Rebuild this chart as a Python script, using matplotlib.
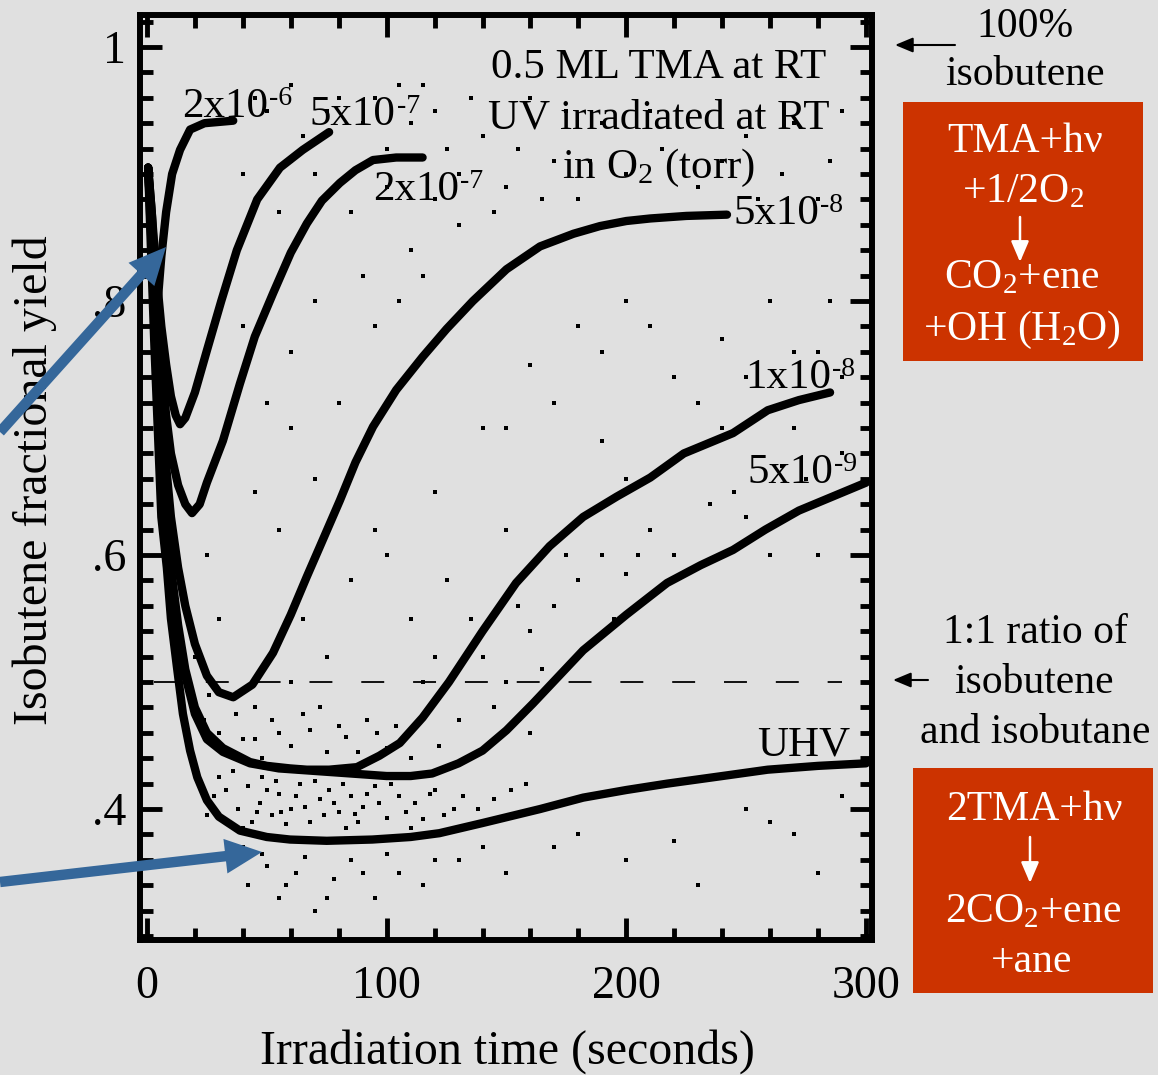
import matplotlib
matplotlib.use("Agg")
import matplotlib.pyplot as plt
from matplotlib.patches import Rectangle, FancyArrowPatch
from matplotlib.ticker import FixedLocator, MultipleLocator

plt.rcParams["font.family"] = ["Liberation Serif", "DejaVu Serif"]
plt.rcParams["mathtext.fontset"] = "custom"
plt.rcParams["mathtext.rm"] = "Liberation Serif"
plt.rcParams["mathtext.it"] = "Liberation Serif:italic"

# ---- data ------------------------------------------------------------------
t_2e6 = [0.5, 1.5, 3, 4.5, 6, 8, 10.5, 13.8, 18, 24, 30, 36]
y_2e6 = [0.905, 0.86, 0.81, 0.80, 0.835, 0.87, 0.90, 0.919, 0.935, 0.940, 0.941, 0.942]

t_5e7 = [0.5, 2, 4, 6, 8, 10, 12, 13.8, 16, 20, 25, 31, 37.5, 46, 55.5, 65, 76]
y_5e7 = [0.905, 0.87, 0.82, 0.78, 0.75, 0.725, 0.71, 0.703, 0.708, 0.728, 0.761,
         0.80, 0.84, 0.88, 0.905, 0.919, 0.933]

t_2e7 = [0.5, 2, 4, 6, 8, 10, 13, 16, 18.8, 22, 25, 31.7, 38.8, 45, 52.6, 60,
         66.7, 73, 80.5, 87, 94.3, 104, 115]
y_2e7 = [0.905, 0.87, 0.80, 0.75, 0.71, 0.68, 0.655, 0.64, 0.633, 0.64, 0.657,
         0.69, 0.735, 0.772, 0.806, 0.838, 0.861, 0.879, 0.893, 0.903, 0.911,
         0.913, 0.913]

t_5e8 = [0.5, 2, 4, 6, 8, 10, 13, 16, 20, 25, 30, 36, 44, 52.6, 60, 66.7, 72,
         80.5, 87, 94.3, 104, 115, 125, 136, 150, 164, 178, 189, 200, 210, 225, 242]
y_5e8 = [0.905, 0.86, 0.78, 0.72, 0.67, 0.63, 0.59, 0.56, 0.53, 0.505, 0.492,
         0.488, 0.498, 0.523, 0.553, 0.583, 0.606, 0.643, 0.673, 0.701, 0.73,
         0.756, 0.778, 0.80, 0.825, 0.843, 0.853, 0.859, 0.863, 0.865, 0.867, 0.868]

t_1e8 = [0.5, 2, 4, 6, 8, 10, 13, 16, 20, 25, 31.7, 43, 50, 59.7, 66.7, 76, 87.6,
         97, 105.5, 115, 126, 140, 154, 168, 182, 196, 210, 224, 244.5, 259, 272, 285]
y_1e8 = [0.905, 0.85, 0.76, 0.69, 0.63, 0.59, 0.545, 0.51, 0.48, 0.46, 0.448,
         0.437, 0.434, 0.432, 0.431, 0.431, 0.433, 0.442, 0.452, 0.472, 0.50,
         0.54, 0.578, 0.607, 0.63, 0.646, 0.661, 0.68, 0.696, 0.714, 0.722, 0.728]

t_5e9 = [0.5, 2, 4, 6, 8, 10, 13, 16, 20, 25, 31.7, 43, 55, 70, 85, 100, 110,
         119, 130, 140, 150, 161, 172, 182, 200, 217, 231, 244.5, 258, 272, 286, 300]
y_5e9 = [0.905, 0.85, 0.75, 0.68, 0.62, 0.58, 0.54, 0.505, 0.475, 0.455, 0.445,
         0.436, 0.432, 0.430, 0.428, 0.426, 0.426, 0.428, 0.436, 0.446, 0.462,
         0.483, 0.505, 0.525, 0.553, 0.578, 0.592, 0.604, 0.62, 0.635, 0.646, 0.657]

t_uhv = [0.5, 1.5, 3, 4.5, 6, 8.3, 10, 12.5, 15, 18, 21, 25, 30, 38.8, 50, 59.7,
         75, 94, 110, 122, 140, 164, 182, 200, 217, 240, 259, 280, 300]
y_uhv = [0.905, 0.85, 0.77, 0.70, 0.63, 0.59, 0.55, 0.512, 0.475, 0.446, 0.425,
         0.407, 0.394, 0.383, 0.378, 0.376, 0.375, 0.376, 0.378, 0.381, 0.389,
         0.40, 0.409, 0.415, 0.42, 0.426, 0.431, 0.434, 0.436]

curves = [(t_2e6, y_2e6), (t_5e7, y_5e7), (t_2e7, y_2e7), (t_5e8, y_5e8),
          (t_1e8, y_1e8), (t_5e9, y_5e9), (t_uhv, y_uhv)]
label_base = ["2x10", "5x10", "2x10", "5x10", "1x10", "5x10", "UHV"]
label_exp = ["-6", "-7", "-7", "-8", "-8", "-9", ""]
label_t = [14.6, 68, 94.3, 244.5, 249.5, 250.7, 254.5]
label_y = [0.945, 0.9386, 0.8795, 0.8606, 0.7315, 0.6567, 0.4425]

# raw scatter of the individual measurements (approximate positions)
dot_t = [22, 28, 33, 38, 42, 47, 52, 55, 60, 64, 68, 72, 76, 80, 85, 90, 95, 100,
         105, 112, 120, 128, 44, 58, 88,
         25, 30, 36, 40, 48, 50, 56, 62, 66, 70, 74, 78, 82, 87, 92, 97, 102, 108,
         115, 118, 124, 132, 138, 145, 152, 158, 26, 34, 46, 54, 83, 110,
         35, 42, 50, 55, 62, 70, 78, 85, 95, 105, 115, 130, 150, 170, 200, 230,
         260, 280, 290, 40, 48, 58, 66, 75, 90, 100, 120, 140, 180, 220, 250, 270,
         18, 24, 30, 37, 45, 52, 60, 68, 75, 83, 92, 100, 110,
         16, 20, 26, 33, 40, 48, 55, 65, 72, 80, 88, 96, 104, 115, 122, 60, 45,
         140, 150, 160, 170, 180, 190, 200, 210, 220, 235, 250, 265, 275, 165, 195,
         100, 120, 140, 160, 180, 200, 220, 240, 260, 280, 150, 190, 230, 270,
         290, 110, 125, 130, 145, 160,
         60, 70, 80, 95, 105, 115, 85, 95, 65, 75, 150, 170, 190, 210, 250, 270,
         285, 200, 240, 155, 175, 205, 245, 260, 280, 290, 135, 120,
         50, 60, 70, 80, 90, 100, 105, 120, 130, 140, 150, 160, 170, 180, 190,
         200, 215, 230, 250, 265, 280, 290, 40, 55, 85,
         65, 75, 95, 110, 115, 125, 135, 145, 155, 165, 175, 185, 195, 210, 240,
         255, 270, 285, 45, 60, 100, 120,
         40, 50, 60, 70, 45, 55, 90, 110, 130, 25, 30]
dot_y = [0.42, 0.41, 0.415, 0.40, 0.418, 0.405, 0.395, 0.412, 0.40, 0.42, 0.39,
         0.408, 0.415, 0.398, 0.41, 0.402, 0.418, 0.393, 0.41, 0.405, 0.415, 0.40,
         0.39, 0.388, 0.39,
         0.395, 0.425, 0.43, 0.385, 0.425, 0.415, 0.398, 0.41, 0.402, 0.422,
         0.395, 0.405, 0.42, 0.396, 0.412, 0.405, 0.42, 0.398, 0.392, 0.412,
         0.395, 0.41, 0.40, 0.408, 0.415, 0.42, 0.405, 0.39, 0.398, 0.422,
         0.385, 0.385,
         0.36, 0.34, 0.355, 0.33, 0.35, 0.32, 0.345, 0.36, 0.33, 0.35, 0.34, 0.36,
         0.35, 0.37, 0.36, 0.34, 0.39, 0.35, 0.41, 0.37, 0.365, 0.34, 0.362,
         0.33, 0.35, 0.365, 0.36, 0.37, 0.38, 0.375, 0.40, 0.38,
         0.49, 0.47, 0.46, 0.475, 0.455, 0.47, 0.45, 0.462, 0.445, 0.457, 0.47,
         0.448, 0.44,
         0.50, 0.52, 0.49, 0.445, 0.455, 0.44, 0.46, 0.475, 0.48, 0.465, 0.445,
         0.46, 0.465, 0.50, 0.45, 0.50, 0.48,
         0.52, 0.50, 0.54, 0.56, 0.58, 0.60, 0.585, 0.62, 0.60, 0.64, 0.63, 0.67,
         0.66, 0.51, 0.55,
         0.60, 0.65, 0.70, 0.75, 0.78, 0.80, 0.74, 0.77, 0.80, 0.76, 0.62, 0.69,
         0.72, 0.70, 0.74, 0.55, 0.58, 0.47, 0.48, 0.46,
         0.70, 0.66, 0.72, 0.78, 0.80, 0.82, 0.58, 0.62, 0.55, 0.52, 0.70, 0.72,
         0.76, 0.78, 0.74, 0.76, 0.80, 0.66, 0.70, 0.56, 0.60, 0.60, 0.65, 0.60,
         0.60, 0.68, 0.55, 0.52,
         0.95, 0.97, 0.90, 0.96, 0.94, 0.92, 0.97, 0.95, 0.90, 0.93, 0.89, 0.96,
         0.91, 0.88, 0.94, 0.90, 0.92, 0.89, 0.93, 0.90, 0.88, 0.95, 0.90, 0.87,
         0.87,
         0.93, 0.95, 0.96, 0.94, 0.97, 0.92, 0.96, 0.87, 0.92, 0.88, 0.95, 0.91,
         0.86, 0.95, 0.91, 0.88, 0.94, 0.91, 0.96, 0.91, 0.89, 0.88,
         0.78, 0.72, 0.76, 0.80, 0.65, 0.62, 0.82, 0.84, 0.86, 0.60, 0.55]

ratio_level = 0.5
ratio_span = [3, 290]

header_lines = ["0.5 ML TMA at RT", "UV irradiated at RT", "in O$_2$ (torr)"]
header_y = [0.9756, 0.936, 0.897]

# ---- figure -----------------------------------------------------------------
W, H = 1158, 1075
BG = "#e0e0e0"
RED = "#cc3300"
BLUE = "#35679a"


def fp(x, y):
    """figure pixel (from top-left) -> figure fraction"""
    return (x / W, 1 - y / H)


fig = plt.figure(figsize=(W / 100, H / 100), dpi=100, facecolor=BG)
ax = fig.add_axes([140 / W, 1 - 940 / H, (872 - 140) / W, (940 - 15) / H])
ax.set_facecolor(BG)

ax.plot(dot_t, dot_y, "s", ms=2.3, color="k", mew=0)
ax.plot(ratio_span, [ratio_level, ratio_level], color="k", lw=1.3,
        dashes=(12.7, 16))
for t, y in curves:
    ax.plot(t, y, color="k", lw=6, solid_capstyle="round",
            solid_joinstyle="round")

for base, exp, tx, ty in zip(label_base, label_exp, label_t, label_y):
    bt = ax.text(tx, ty, base, fontsize=31, ha="left", va="baseline")
    if exp:
        ax.annotate(exp, xy=(1.0, 1.0), xycoords=bt, xytext=(0.5, 1),
                    textcoords="offset points", fontsize=20, ha="left",
                    va="top")
for line, ty in zip(header_lines, header_y):
    ax.text(213.6, ty, line, fontsize=31, ha="center", va="baseline")

ax.set_xlim(-2.9, 302.5)
ax.set_ylim(0.2969, 1.0252)
ax.xaxis.set_major_locator(FixedLocator([0, 100, 200, 300]))
ax.xaxis.set_minor_locator(MultipleLocator(20))
ax.yaxis.set_major_locator(FixedLocator([0.4, 0.6, 0.8, 1.0]))
ax.yaxis.set_minor_locator(MultipleLocator(0.02))
ax.set_xticklabels(["0", "100", "200", "300"])
ax.set_yticklabels([".4", ".6", ".8", "1"])
ax.tick_params(which="both", direction="in", top=True, right=True, width=3.5,
               labelsize=33)
ax.tick_params(which="major", length=16)
ax.tick_params(which="minor", length=9)
ax.tick_params(axis="x", pad=18)
ax.tick_params(axis="y", pad=10)
for sp in ax.spines.values():
    sp.set_linewidth(4.3)

fig.text(*fp(507, 1052), "Irradiation time (seconds)", fontsize=34.5,
         ha="center", va="center")
fig.text(*fp(35, 480), "Isobutene fractional yield", fontsize=34.5,
         ha="center", va="center", rotation=90)

# right-hand notes
for txt, x, y in [("100%", 1025, 37), ("isobutene", 1025, 85),
                  ("1:1 ratio of", 1035, 643), ("isobutene", 1034, 693),
                  ("and isobutane", 1035, 743)]:
    fig.text(*fp(x, y), txt, fontsize=30, ha="center", va="baseline")
for (x0, x1, y) in [(955, 895, 45), (928, 893, 680)]:
    fig.add_artist(FancyArrowPatch(fp(x0, y), fp(x1, y),
                                   transform=fig.transFigure,
                                   arrowstyle="-|>,head_length=0.6,head_width=0.25",
                                   mutation_scale=18, lw=1.5, color="k",
                                   shrinkA=0, shrinkB=0))

# reaction boxes
boxes = [
    ((903, 102, 1143, 361),
     [("TMA+h\u03bd", 1025, 152), ("+1/2O$_2$", 1023, 202),
      ("CO$_2$+ene", 1022, 288), ("+OH (H$_2$O)", 1022, 340)],
     (1020, 217, 262)),
    ((913, 768, 1153, 993),
     [("2TMA+h\u03bd", 1034, 820), ("2CO$_2$+ene", 1033, 922),
      ("+ane", 1032, 972)],
     (1030, 837, 883)),
]
for (x0, y0, x1, y1), lines, (ax_x, ay0, ay1) in boxes:
    fig.add_artist(Rectangle(fp(x0, y1), (x1 - x0) / W, (y1 - y0) / H,
                             transform=fig.transFigure, facecolor=RED,
                             edgecolor="none"))
    for txt, x, y in lines:
        fig.text(*fp(x, y), txt, fontsize=30, color="white", ha="center",
                 va="baseline")
    fig.add_artist(FancyArrowPatch(fp(ax_x, ay0), fp(ax_x, ay1),
                                   transform=fig.transFigure,
                                   arrowstyle="-|>,head_length=0.7,head_width=0.3",
                                   mutation_scale=18, lw=1.8, color="white",
                                   shrinkA=0, shrinkB=0))

# blue pointer arrows
for (x0, y0), (x1, y1) in [((0, 432), (166, 247)), ((0, 882), (262, 852))]:
    fig.add_artist(FancyArrowPatch(fp(x0, y0), fp(x1, y1),
                                   transform=fig.transFigure,
                                   arrowstyle="simple,head_length=0.53,head_width=0.5,tail_width=0.15",
                                   mutation_scale=50, lw=0, color=BLUE,
                                   shrinkA=0, shrinkB=0, zorder=10))

fig.savefig("out.png", dpi=100, facecolor=BG)
